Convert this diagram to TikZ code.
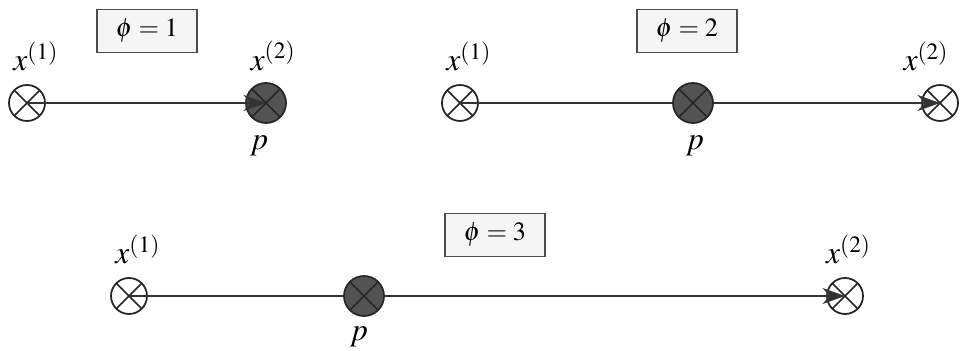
\documentclass[tikz,border=0pt]{standalone}
\usepackage{mathptmx}
\usepackage{fontspec}
\setmainfont{Liberation Serif}
\usetikzlibrary{positioning,arrows.meta}

\begin{document}
\begin{tikzpicture}[
	x=0.02cm, y=-0.02cm,
	every node/.style={font=\fontsize{18}{20}\selectfont},
	obs/.style={circle, draw=black!85, line width=1pt, fill=white, minimum size=0.72cm, inner sep=0pt,
		path picture={\draw[line width=1pt] (path picture bounding box.north west) -- (path picture bounding box.south east)
			(path picture bounding box.north east) -- (path picture bounding box.south west);}},
	pnode/.style={obs, fill=gray!65!black, minimum size=0.8cm},
	phibox/.style={draw=gray!60!black, line width=0.8pt, fill=gray!8, minimum width=2.0cm, minimum height=0.86cm, font=\fontsize{15}{17}\selectfont},
	arrow/.style={-{Stealth[length=4.5mm,width=3.2mm]}, line width=1.6pt, draw=black!80}
	]
	\useasboundingbox (0,0) rectangle (965,351);
	
	% phi = 1
	\node[phibox] (B1) at (147,31) {$\phi = 1$};
	\node[obs] (A1) at (27,103) {};
	\node[pnode] (P1) at (266,103) {};
	\node[above=4pt of A1, xshift=5pt] {$x^{(1)}$};
	\node[above=3pt of P1, xshift=4pt] {$x^{(2)}$};
	\node[below=3pt of P1, xshift=-4pt] {$p$};
	\draw[arrow] (A1.center) -- (P1.center);
	
	% phi = 2
	\node[phibox] (B2) at (687,31) {$\phi = 2$};
	\node[obs] (A2) at (460,103) {};
	\node[pnode] (P2) at (693,103) {};
	\node[obs] (C2) at (940,103) {};
	\node[above=4pt of A2, xshift=5pt] {$x^{(1)}$};
	\node[above=4pt of C2, xshift=-8pt] {$x^{(2)}$};
	\node[below=3pt of P2, xshift=1pt] {$p$};
	\draw[arrow] (A2.center) -- (P2) -- (C2.center);
	
	% phi = 3
	\node[phibox] (B3) at (495,235) {$\phi = 3$};
	\node[obs] (A3) at (129,296) {};
	\node[pnode] (P3) at (364,296) {};
	\node[obs] (C3) at (845,296) {};
	\node[above=4pt of A3, xshift=5pt] {$x^{(1)}$};
	\node[above=4pt of C3, xshift=2pt] {$x^{(2)}$};
	\node[below=2pt of P3, xshift=-3pt] {$p$};
	\draw[arrow] (A3.center) -- (P3) -- (C3.center);
	
\end{tikzpicture}
\end{document}
